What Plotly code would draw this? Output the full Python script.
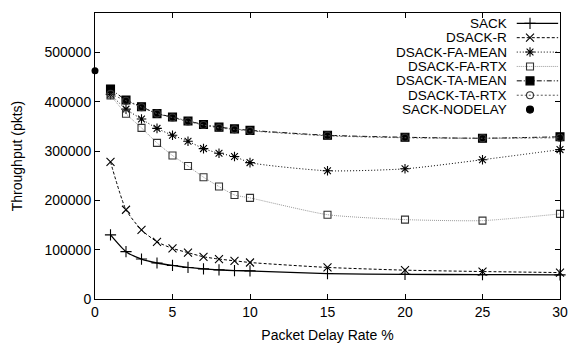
import plotly.graph_objects as go

# Packet delay rate (%) used for every protocol variant
delay_rate = [1, 2, 3, 4, 5, 6, 7, 8, 9, 10, 15, 20, 25, 30]

sack = [130000, 96000, 81000, 73000, 68000, 64000, 61000, 59000, 57700, 57000,
        51600, 50000, 49500, 49000]
dsack_r = [278000, 181000, 140000, 116000, 102600, 94000, 85600, 81000, 77500, 74000,
           64000, 58500, 55700, 53600]
dsack_fa_mean = [415000, 385000, 365000, 346000, 332000, 320000, 305000, 295500, 289000, 276600,
                 260000, 264000, 282500, 303000]
dsack_fa_rtx = [413000, 375700, 347000, 316600, 291000, 269700, 247000, 228000, 211000, 205000,
                171000, 161000, 159000, 172600]
dsack_ta_mean = [426000, 403600, 390000, 376000, 369000, 361000, 354000, 348500, 345000, 342000,
                 332000, 328000, 326000, 329000]
dsack_ta_rtx = [416000, 402000, 389000, 376000, 368000, 360000, 353000, 347000, 344000, 341000,
                331000, 327000, 326000, 327000]

nodelay_rate = [0]
sack_nodelay = [463000]

y_ticks = [0, 100000, 200000, 300000, 400000, 500000]
x_ticks = [0, 5, 10, 15, 20, 25, 30]

FONT = "Liberation Sans, Arial, sans-serif"

series = [
    # name, y values, line colour, dash, width, marker symbol, marker size
    ("SACK", sack, "black", "solid", 1.3, "cross-thin-open", 8),
    ("DSACK-R", dsack_r, "black", "3px,2px", 1, "x-thin-open", 8),
    ("DSACK-FA-MEAN", dsack_fa_mean, "black", "1px,2px", 1, "asterisk-open", 8),
    ("DSACK-FA-RTX", dsack_fa_rtx, "#9a9a9a", "1px,1px", 1, "square-open", 7),
    ("DSACK-TA-MEAN", dsack_ta_mean, "black", "5px,2px,1px,2px", 1, "square", 8),
    ("DSACK-TA-RTX", dsack_ta_rtx, "#555555", "2px,2px", 1, "circle-open", 7),
]


def marker_color(sym):
    return "#333333" if sym in ("square-open", "circle-open") else "black"


fig = go.Figure()

for name, vals, color, dash, width, sym, size in series:
    mc = marker_color(sym)
    fig.add_trace(go.Scatter(
        x=delay_rate, y=vals, name=name, mode="lines+markers",
        line=dict(color=color, dash=dash, width=width, shape="spline", smoothing=0.6),
        marker=dict(symbol=sym, size=size, color=mc, line=dict(color=mc, width=1.1)),
        showlegend=False, cliponaxis=False,
    ))

fig.add_trace(go.Scatter(
    x=nodelay_rate, y=sack_nodelay, name="SACK-NODELAY", mode="markers",
    marker=dict(symbol="circle", size=7, color="black"),
    showlegend=False, cliponaxis=False,
))

# Key drawn in an overlay coordinate system: label on the left, sample on the right
key_rows = series + [("SACK-NODELAY", None, None, None, 0, "circle", 7)]
row_top, row_step = 0.964, 0.0503
x_line0, x_line1, x_mark, x_text = 0.907, 0.996, 0.9355, 0.888
for i, (name, _, color, dash, width, sym, size) in enumerate(key_rows):
    yk = row_top - i * row_step
    fig.add_annotation(
        x=x_text, y=yk, xref="x2", yref="y2", text=name, showarrow=False,
        xanchor="right", yanchor="middle", borderpad=0,
        font=dict(family=FONT, size=13.5, color="black"),
    )
    if width:
        fig.add_trace(go.Scatter(
            x=[x_line0, x_line1], y=[yk, yk], xaxis="x2", yaxis="y2", mode="lines",
            line=dict(color=color, dash=dash, width=width), showlegend=False, hoverinfo="skip",
        ))
    mc = marker_color(sym)
    fig.add_trace(go.Scatter(
        x=[x_mark], y=[yk], xaxis="x2", yaxis="y2", mode="markers",
        marker=dict(symbol=sym, size=size, color=mc, line=dict(color=mc, width=1.1)),
        showlegend=False, hoverinfo="skip",
    ))

axis_common = dict(
    showgrid=False, zeroline=False, showline=True, linecolor="black", linewidth=1,
    mirror="ticks", ticks="inside", ticklen=5, tickcolor="black", tickwidth=1,
    tickfont=dict(family=FONT, size=14, color="black"), automargin=False,
)

fig.update_layout(
    width=568, height=343,
    margin=dict(l=95, r=8, t=13, b=44),
    paper_bgcolor="white", plot_bgcolor="white",
    font=dict(family=FONT, size=14, color="black"),
    xaxis=dict(range=[0, 30], tickvals=x_ticks, **axis_common,
               title=dict(text="Packet Delay Rate %", standoff=12,
                          font=dict(family=FONT, size=14))),
    yaxis=dict(range=[0, 580000], tickvals=y_ticks, tickformat="d", **axis_common,
               title=dict(text="Throughput (pkts)", standoff=18,
                          font=dict(family=FONT, size=14))),
    xaxis2=dict(range=[0, 1], overlaying="x", visible=False, fixedrange=True),
    yaxis2=dict(range=[0, 1], overlaying="y", visible=False, fixedrange=True),
)

fig.write_html("out.html")
